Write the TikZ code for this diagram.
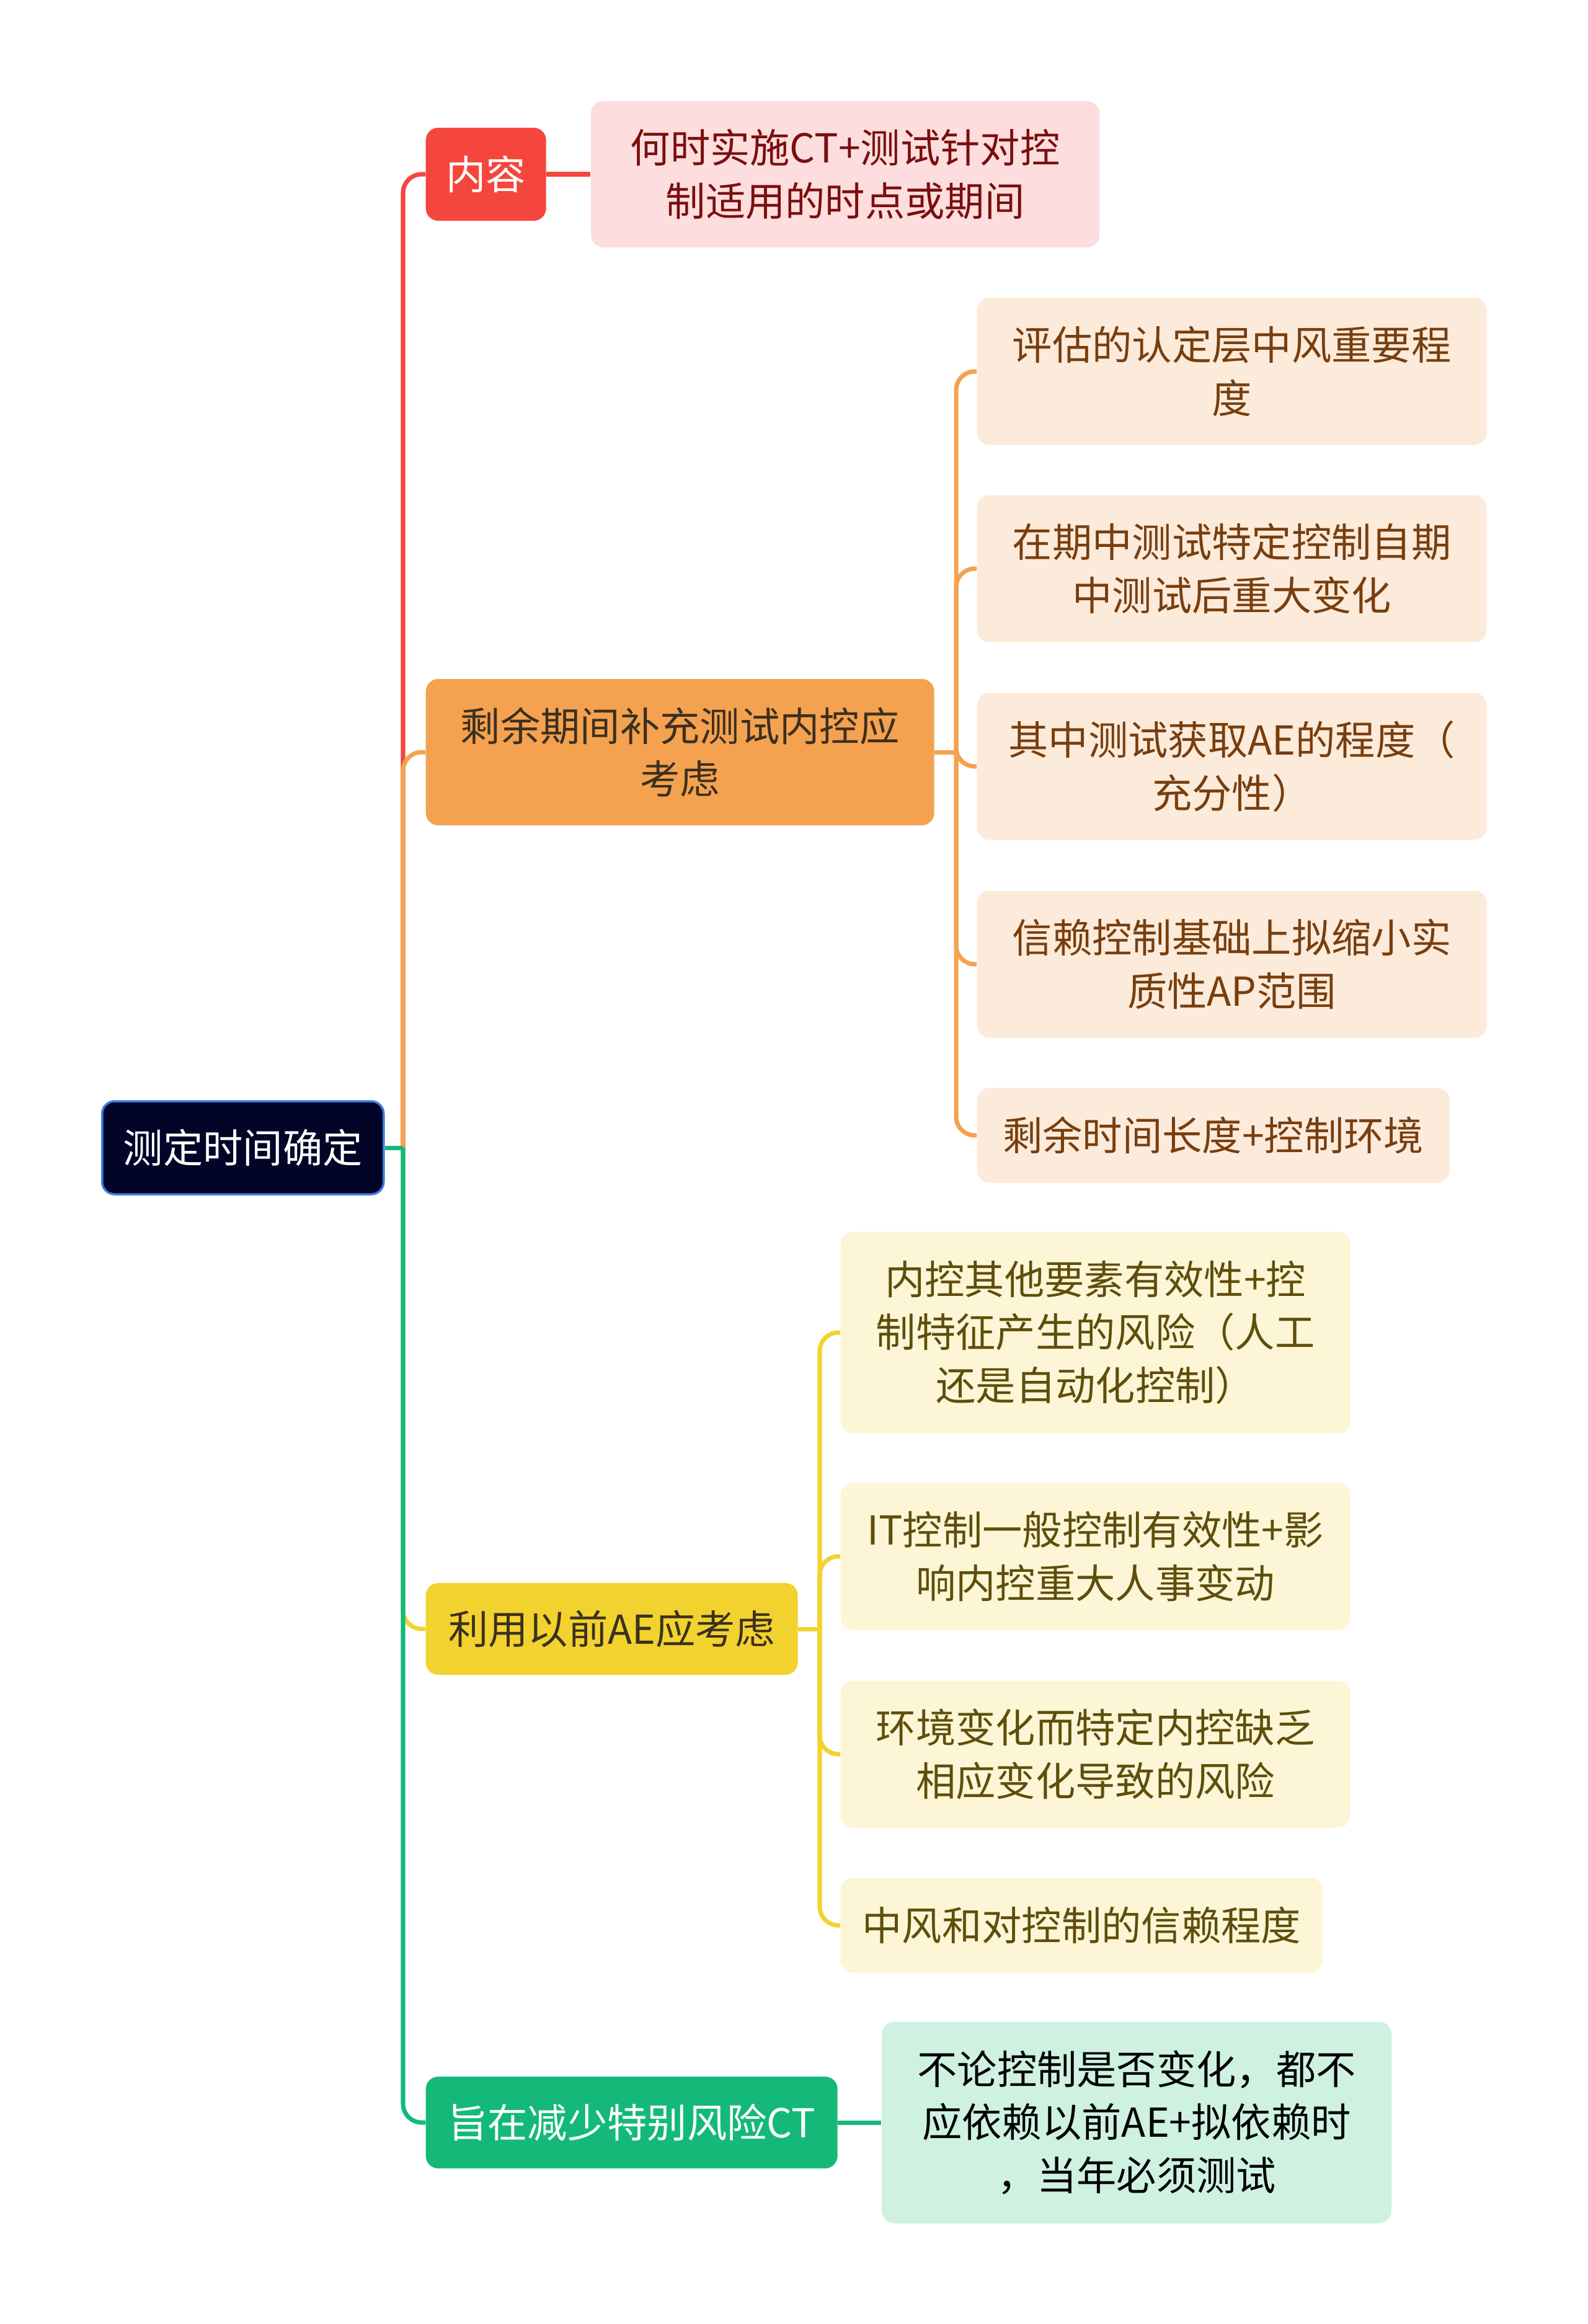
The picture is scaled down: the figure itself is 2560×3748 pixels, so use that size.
\documentclass[tikz,border=0pt]{standalone}
\usepackage{fontspec}
\setmainfont{Noto Sans CJK SC}
\usepackage{tikz}
\usetikzlibrary{positioning,calc}
\definecolor{rootfill}{RGB}{2,4,40}
\definecolor{rootline}{RGB}{60,125,220}
\definecolor{red2}{RGB}{245,70,62}
\definecolor{lightred}{RGB}{253,221,221}
\definecolor{redtext}{RGB}{122,14,14}
\definecolor{orange2}{RGB}{244,162,80}
\definecolor{lightorange}{RGB}{252,234,218}
\definecolor{orangetext}{RGB}{120,62,14}
\definecolor{darktext}{RGB}{60,48,30}
\definecolor{yellow2}{RGB}{242,210,46}
\definecolor{lightyellow}{RGB}{252,245,214}
\definecolor{yellowtext}{RGB}{94,78,10}
\definecolor{green2}{RGB}{20,185,122}
\definecolor{lightgreen}{RGB}{206,241,226}
\tikzset{
  basebox/.style={rounded corners=2mm, align=center, inner sep=0pt,
    font=\fontsize{18.3}{24.4}\selectfont},
  rootbox/.style={basebox, draw=rootline, line width=1pt, fill=rootfill, text=white,
    minimum width=45.4mm, minimum height=15mm},
  redbox/.style={basebox, fill=red2, text=white, minimum height=15mm},
  redleaf/.style={basebox, fill=lightred, text=redtext, minimum width=82mm, minimum height=23.6mm},
  orangebox/.style={basebox, fill=orange2, text=darktext, minimum width=82mm, minimum height=23.6mm},
  orangeleaf/.style={basebox, fill=lightorange, text=orangetext, minimum width=82.2mm, minimum height=23.7mm},
  yellowbox/.style={basebox, fill=yellow2, text=darktext, minimum width=60mm, minimum height=14.8mm},
  yellowleaf/.style={basebox, fill=lightyellow, text=yellowtext, minimum width=82.2mm, minimum height=23.7mm},
  greenbox/.style={basebox, fill=green2, text=white, minimum width=66.4mm, minimum height=14.8mm},
  greenleaf/.style={basebox, fill=lightgreen, text=black, minimum width=82.2mm, minimum height=32.5mm},
  redline/.style={draw=red2, line width=2pt},
  orangeline/.style={draw=orange2, line width=2pt},
  yellowline/.style={draw=yellow2, line width=2pt},
  greenline/.style={draw=green2, line width=2pt}
}
\begin{document}
\begin{tikzpicture}[x=0.1mm, y=-0.1mm]
\useasboundingbox (0,0) rectangle (2560,3748);
% Root
\node[rootbox, anchor=west] (root) at (163,1851) {测定时间确定};
\coordinate (trunk) at (650,1851);

% Branch: content
\node[redbox, anchor=west, minimum width=19.4mm] (content) at (686,281) {内容};
\node[redleaf, right=7.1mm of content] (when) {何时实施CT+测试针对控\\制适用的时点或期间};

% Branch: remaining period
\node[orangebox, anchor=west] (remain) at (686,1213) {剩余期间补充测试内控应\\考虑};
\coordinate (obrace) at (1542,1213);
\node[orangeleaf, anchor=west] (assess) at (1575,599) {评估的认定层中风重要程\\度};
\node[orangeleaf, anchor=west] (change) at (1575,917) {在期中测试特定控制自期\\中测试后重大变化};
\node[orangeleaf, anchor=west] (extent) at (1575,1236) {其中测试获取AE的程度（\\充分性）};
\node[orangeleaf, anchor=west] (reduce) at (1575,1555) {信赖控制基础上拟缩小实\\质性AP范围};
\node[orangeleaf, anchor=west, minimum width=76.2mm, minimum height=15.3mm] (length) at (1575,1831) {剩余时间长度+控制环境};

% Branch: prior evidence
\node[yellowbox, anchor=west] (prior) at (686,2627) {利用以前AE应考虑};
\coordinate (ybrace) at (1322,2627);
\node[yellowleaf, anchor=west, minimum height=32.5mm] (other) at (1355,2149) {内控其他要素有效性+控\\制特征产生的风险（人工\\还是自动化控制）};
\node[yellowleaf, anchor=west] (itctrl) at (1355,2510) {IT控制一般控制有效性+影\\响内控重大人事变动};
\node[yellowleaf, anchor=west] (envir) at (1355,2829) {环境变化而特定内控缺乏\\相应变化导致的风险};
\node[yellowleaf, anchor=west, minimum width=77.7mm, minimum height=15.3mm] (trust) at (1355,3105) {中风和对控制的信赖程度};

% Branch: special risk
\node[greenbox, anchor=west] (special) at (686,3423) {旨在减少特别风险CT};
\node[greenleaf, right=7mm of special] (always) {不论控制是否变化，都不\\应依赖以前AE+拟依赖时\\，当年必须测试};

% Connections
\draw[redline, rounded corners=3mm] (trunk) |- (content.west);
\draw[redline] (content) -- (when);
\draw[orangeline, rounded corners=3mm] (trunk) |- (remain.west);
\draw[orangeline] (remain.east) -- (obrace);
\foreach \n in {assess,change,extent,reduce,length}
  \draw[orangeline, rounded corners=3mm] (obrace) |- (\n.west);
\draw[yellowline, rounded corners=3mm] (trunk) |- (prior.west);
\draw[yellowline] (prior.east) -- (ybrace);
\foreach \n in {other,itctrl,envir,trust}
  \draw[yellowline, rounded corners=3mm] (ybrace) |- (\n.west);
\draw[greenline, rounded corners=3mm] (trunk) |- (special.west);
\draw[greenline] (special) -- (always);
\draw[greenline] (root.east) -- (trunk);
\end{tikzpicture}
\end{document}
